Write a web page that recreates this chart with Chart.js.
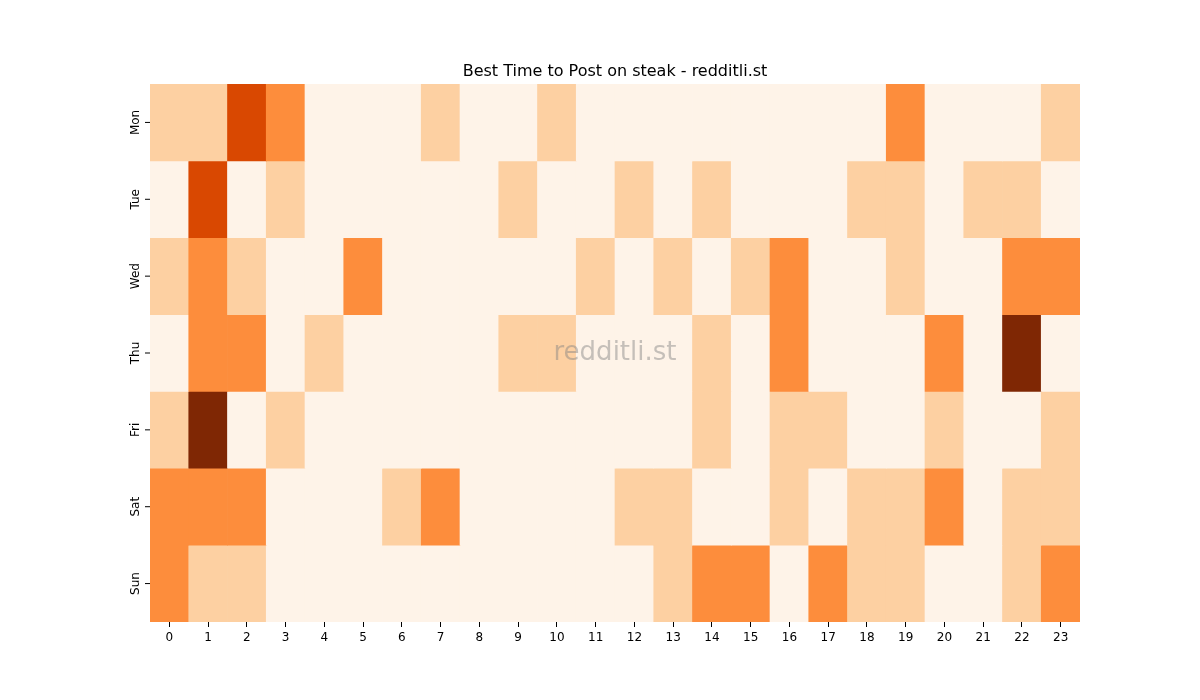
<!DOCTYPE html>
<html>
<head>
<meta charset="utf-8">
<script src="https://cdn.jsdelivr.net/npm/chart.js@4"></script>
<style>
  html, body { margin: 0; background: #fff; }
  #wrap { width: 1200px; height: 700px; }
</style>
</head>
<body>
<div id="wrap"><canvas id="heat" width="1200" height="700"></canvas></div>
<script>
// 시간(열)과 요일(행)
const hours = ['0','1','2','3','4','5','6','7','8','9','10','11','12','13','14','15','16','17','18','19','20','21','22','23'];
const days = ['Mon', 'Tue', 'Wed', 'Thu', 'Fri', 'Sat', 'Sun'];

// 색 단계 0~4
const mon = [1,1,3,2,0,0,0,1,0,0,1,0,0,0,0,0,0,0,0,2,0,0,0,1];
const tue = [0,3,0,1,0,0,0,0,0,1,0,0,1,0,1,0,0,0,1,1,0,1,1,0];
const wed = [1,2,1,0,0,2,0,0,0,0,0,1,0,1,0,1,2,0,0,1,0,0,2,2];
const thu = [0,2,2,0,1,0,0,0,0,1,1,0,0,0,1,0,2,0,0,0,2,0,4,0];
const fri = [1,4,0,1,0,0,0,0,0,0,0,0,0,0,1,0,1,1,0,0,1,0,0,1];
const sat = [2,2,2,0,0,0,1,2,0,0,0,0,1,1,0,0,1,0,1,1,2,0,1,1];
const sun = [2,1,1,0,0,0,0,0,0,0,0,0,0,1,2,2,0,2,1,1,0,0,1,2];
const rows = [mon, tue, wed, thu, fri, sat, sun];

const levelColors = ['#fef3e8', '#fdd0a2', '#fd8d3c', '#d94801', '#7f2704'];

const datasets = rows.map((row, r) => ({
    label: days[r],
    data: row.map(() => [r, r + 1]),
    backgroundColor: row.map(v => levelColors[v]),
    borderWidth: 0,
    barPercentage: 1,
    categoryPercentage: 1,
    grouped: false
}));

// 제목, y축 라벨, 워터마크 그리기
const decor = {
    id: 'decor',
    afterDraw(chart) {
        const ctx = chart.ctx;
        const area = chart.chartArea;
        const y = chart.scales.y;
        ctx.save();
        ctx.fillStyle = '#000';
        ctx.font = '16px "DejaVu Sans"';
        ctx.textAlign = 'center';
        ctx.textBaseline = 'alphabetic';
        ctx.fillText('Best Time to Post on steak - redditli.st', (area.left + area.right) / 2, 76);

        ctx.font = '12px "DejaVu Sans"';
        ctx.strokeStyle = '#000';
        ctx.lineWidth = 1;
        days.forEach((d, i) => {
            const py = y.getPixelForValue(i + 0.5);
            ctx.beginPath();
            ctx.moveTo(area.left - 5, py);
            ctx.lineTo(area.left, py);
            ctx.stroke();
            ctx.save();
            ctx.translate(area.left - 14, py);
            ctx.rotate(-Math.PI / 2);
            ctx.textAlign = 'center';
            ctx.textBaseline = 'middle';
            ctx.fillText(d, 0, 0);
            ctx.restore();
        });

        ctx.fillStyle = 'rgba(128,128,128,0.45)';
        ctx.font = '26px "DejaVu Sans"';
        ctx.textAlign = 'center';
        ctx.textBaseline = 'middle';
        ctx.fillText('redditli.st', (area.left + area.right) / 2, (area.top + area.bottom) / 2);
        ctx.restore();
    }
};

new Chart(document.getElementById('heat'), {
    type: 'bar',
    data: { labels: hours, datasets: datasets },
    plugins: [decor],
    options: {
        responsive: false,
        animation: false,
        devicePixelRatio: 1,
        layout: { padding: { top: 84, right: 120, left: 0, bottom: 0 } },
        plugins: { legend: { display: false }, tooltip: { enabled: false } },
        scales: {
            x: {
                offset: true,
                grid: { offset: false, drawOnChartArea: false, tickLength: 5, color: '#000' },
                border: { display: false },
                ticks: { color: '#000', font: { size: 12, family: 'DejaVu Sans' }, maxRotation: 0, padding: 4 },
                afterFit(s) { s.height = 78; }
            },
            y: {
                min: 0, max: 7, reverse: true,
                grid: { display: false },
                border: { display: false },
                ticks: { display: false },
                afterFit(s) { s.width = 150; }
            }
        }
    }
});
</script>
</body>
</html>
